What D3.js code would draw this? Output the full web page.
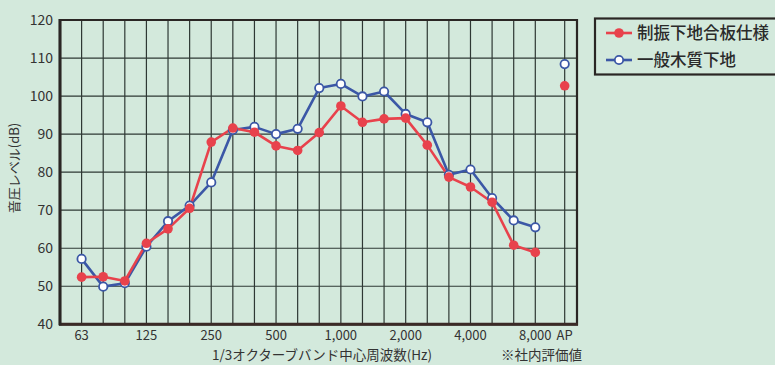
<!DOCTYPE html>
<html><head><meta charset="utf-8">
<script src="https://cdn.jsdelivr.net/npm/d3@7"></script>
<style>
html,body{margin:0;padding:0;background:#d3e9dc;}
svg{display:block;}
text{font-family:"Noto Sans CJK JP","Noto Sans",sans-serif;}
</style></head>
<body>
<svg id="chart" width="775" height="365"></svg>
<script>
const freqs = ["63","80","100","125","160","200","250","315","400","500","630","800","1000","1250","1600","2000","2500","3150","4000","5000","6300","8000"];
const tickLabels = {"63":"63","125":"125","250":"250","500":"500","1000":"1,000","2000":"2,000","4000":"4,000","8000":"8,000"};
const apLabel = "AP";
const seriesNames = ["制振下地合板仕様","一般木質下地"];
const redValues  = [52.4,52.5,51.4,61.3,65.1,70.5,87.9,91.6,90.5,86.9,85.7,90.4,97.4,93.1,94.0,94.2,87.1,78.7,76.1,72.1,60.8,58.9];
const blueValues = [57.2,49.9,50.8,60.4,67.1,71.2,77.3,91.1,91.9,90.0,91.4,102.1,103.2,99.9,101.2,95.3,93.1,79.3,80.7,73.2,67.3,65.5];
const redAP = 102.7, blueAP = 108.4;
const yTicks = [40,50,60,70,80,90,100,110,120];
const xTitle = "1/3オクターブバンド中心周波数(Hz)";
const yTitle = "音圧レベル(dB)";
const note = "※社内評価値";

const svg = d3.select("#chart");
const L = 60, R = 577, T = 20, B = 324.3;
// index scale: -1 => left border, frequencies 0..21, AP at 22.36
const x = d3.scaleLinear().domain([-1, 22.93]).range([L, R]);
const apIdx = 22.36;
const y = d3.scaleLinear().domain([40,120]).range([B, T]);
const gridColor = "#2e3834";

// horizontal grid
svg.append("g").selectAll("line").data(yTicks).join("line")
  .attr("x1", L).attr("x2", R).attr("y1", d=>y(d)).attr("y2", d=>y(d))
  .attr("stroke", gridColor).attr("stroke-width", 1.2);
// vertical grid
const vIdx = freqs.map((f,i)=>i).concat([apIdx]);
svg.append("g").selectAll("line").data(vIdx).join("line")
  .attr("x1", d=>x(d)).attr("x2", d=>x(d)).attr("y1", T).attr("y2", B)
  .attr("stroke", gridColor).attr("stroke-width", 1.2);
// frame
svg.append("path")
  .attr("d", `M${L},${B}V${T}H${R}V${B}Z`)
  .attr("fill","none").attr("stroke","#2a2624").attr("stroke-width",2.2);
svg.append("line").attr("x1",L-1).attr("x2",R+1).attr("y1",B).attr("y2",B)
  .attr("stroke","#3a2a26").attr("stroke-width",3);
svg.append("line").attr("x1",L).attr("x2",L).attr("y1",T-1).attr("y2",B+1)
  .attr("stroke","#2a2624").attr("stroke-width",3);

// y tick labels
svg.append("g").selectAll("text").data(yTicks).join("text")
  .attr("x", 53).attr("y", d=>y(d)).attr("dy","0.35em")
  .attr("text-anchor","end").attr("font-size",14).attr("fill","#333")
  .attr("font-family","Liberation Sans, Arial, sans-serif")
  .text(d=>d);
// x tick labels
const xl = freqs.map((f,i)=>({i, t: tickLabels[f]})).filter(d=>d.t);
xl.push({i: apIdx, t: apLabel});
svg.append("g").selectAll("text").data(xl).join("text")
  .attr("x", d=>x(d.i)).attr("y", 340)
  .attr("text-anchor","middle").attr("font-size",13).attr("fill","#333")
  .attr("font-family","Liberation Sans, Arial, sans-serif")
  .text(d=>d.t);

// titles
svg.append("text").attr("x", 322).attr("y", 360).attr("text-anchor","middle")
  .attr("font-size",13.5).attr("fill","#333").text(xTitle);
svg.append("text").attr("x", 582).attr("y", 360).attr("text-anchor","end")
  .attr("font-size",13.5).attr("fill","#333").text(note);
svg.append("text").attr("transform","translate(19,168) rotate(-90)")
  .attr("text-anchor","middle").attr("font-size",13).attr("fill","#333").text(yTitle);

const red = "#e8424c", blue = "#3b57a6";
const line = d3.line().x((d,i)=>x(i)).y(d=>y(d));
svg.append("path").datum(blueValues).attr("d", line)
  .attr("fill","none").attr("stroke",blue).attr("stroke-width",2.6).attr("stroke-linejoin","round");
svg.append("path").datum(redValues).attr("d", line)
  .attr("fill","none").attr("stroke",red).attr("stroke-width",2.6).attr("stroke-linejoin","round");

svg.append("g").selectAll("circle").data(blueValues.map((v,i)=>({i,v})).concat([{i:apIdx,v:blueAP}])).join("circle")
  .attr("cx", d=>x(d.i)).attr("cy", d=>y(d.v)).attr("r",4.2)
  .attr("fill","#fff").attr("stroke",blue).attr("stroke-width",1.8);
svg.append("g").selectAll("circle").data(redValues.map((v,i)=>({i,v})).concat([{i:apIdx,v:redAP}])).join("circle")
  .attr("cx", d=>x(d.i)).attr("cy", d=>y(d.v)).attr("r",4.8)
  .attr("fill",red);

// legend
const lg = svg.append("g");
lg.append("rect").attr("x",595).attr("y",18.5).attr("width",185).attr("height",56)
  .attr("fill","none").attr("stroke","#2a2624").attr("stroke-width",2.2);
const items = [{n:seriesNames[0], c:red, open:false, y:33},{n:seriesNames[1], c:blue, open:true, y:60}];
items.forEach(it=>{
  lg.append("line").attr("x1",606).attr("x2",632).attr("y1",it.y).attr("y2",it.y)
    .attr("stroke",it.c).attr("stroke-width",2.6);
  lg.append("circle").attr("cx",619).attr("cy",it.y).attr("r", it.open?4.2:4.8)
    .attr("fill", it.open?"#fff":it.c).attr("stroke", it.open?it.c:"none").attr("stroke-width",1.8);
  lg.append("text").attr("x",637).attr("y",it.y).attr("dy","0.36em")
    .attr("font-size",16.5).attr("font-weight",500).attr("fill","#2a2a2a").text(it.n);
});
</script>
</body></html>
